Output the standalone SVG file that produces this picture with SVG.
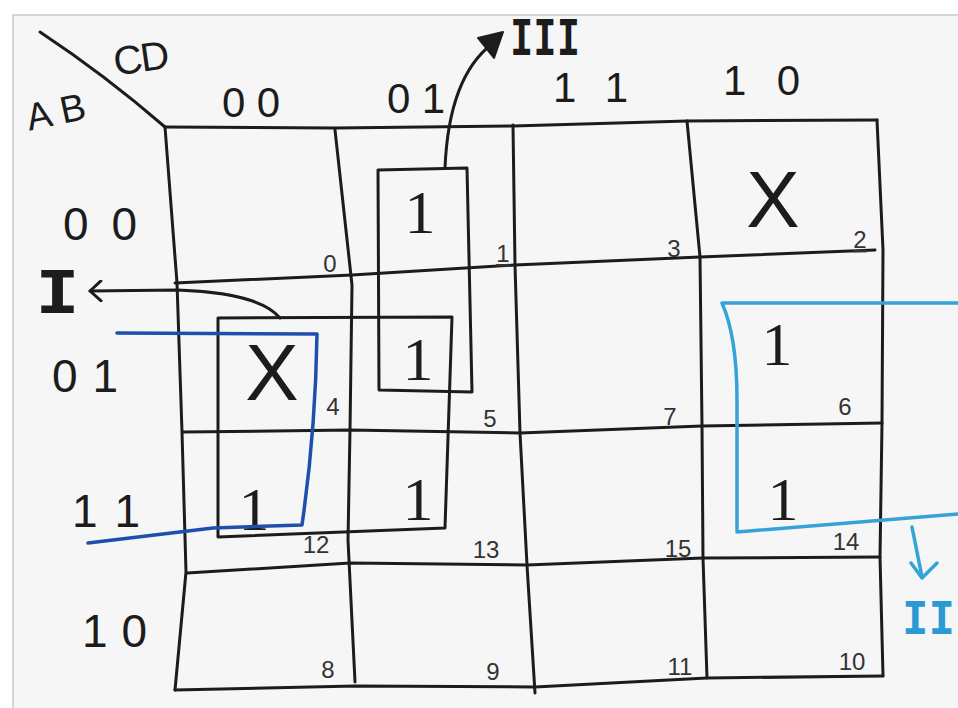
<svg xmlns="http://www.w3.org/2000/svg" width="958" height="708" viewBox="0 0 958 708">
<defs>
<style>
.ink{fill:none;stroke:#1c1c1c;stroke-width:3;stroke-linecap:round;stroke-linejoin:round}
.b1{fill:none;stroke:#1f4fae;stroke-width:3.5;stroke-linecap:round;stroke-linejoin:round}
.b2{fill:none;stroke:#35a3d6;stroke-width:3.5;stroke-linecap:round;stroke-linejoin:round}
.lbl{font-family:"Liberation Sans",Arial,sans-serif;fill:#1c1c1c}
.one{font-family:"Liberation Serif","Times New Roman",serif;fill:#1c1c1c;font-size:62px;text-anchor:middle}
.num{font-family:"Liberation Sans",Arial,sans-serif;fill:#333;font-size:24px;text-anchor:middle}
.rom{font-family:"DejaVu Sans Mono","Liberation Mono",monospace;font-weight:bold}
</style>
<marker id="openhead" markerWidth="16" markerHeight="22" refX="13" refY="11" orient="auto" markerUnits="userSpaceOnUse">
<path d="M2,1 L13,11 L2,21" fill="none" stroke="#1c1c1c" stroke-width="3" stroke-linecap="round" stroke-linejoin="round"/>
</marker>
</defs>
<rect x="0" y="0" width="958" height="708" fill="#ffffff"/>
<rect x="13" y="15" width="960" height="700" fill="#f6f6f6" stroke="#c9c9c9" stroke-width="1.5"/>

<g id="grid">
<path class="ink" d="M40,32 Q105,75 165,127"/>
<path class="ink" d="M165,127 L335,128 L513,126 L687,121 L877,120"/>
<path class="ink" d="M175,283 L352,275 L515,265 L700,257 L875,250"/>
<path class="ink" d="M183,432 L350,430 L520,433 L702,426 L882,423"/>
<path class="ink" d="M187,573 L350,563 L527,565 L703,558 L880,557"/>
<path class="ink" d="M175,690 L355,686 L535,687 L707,678 L883,676"/>
<path class="ink" d="M165,127 L177,283 L182,432 L186,572 L175,690"/>
<path class="ink" d="M335,130 L352,285 L350,430 L348,540 L355,682"/>
<path class="ink" d="M513,125 L515,265 L520,433 L527,565 L535,693"/>
<path class="ink" d="M687,121 L700,257 L702,426 L703,558 L707,678"/>
<path class="ink" d="M877,120 L883,250 L882,423 L880,557 L883,676"/>
</g>

<g id="headers">
<text class="lbl" x="113" y="72" font-size="40" textLength="56" transform="rotate(-8 140 56)">CD</text>
<text class="lbl" x="25" y="125" font-size="38" textLength="60" transform="rotate(-12 55 108)">AB</text>
<text class="lbl" x="222" y="117" font-size="42" textLength="58">00</text>
<text class="lbl" x="387" y="113" font-size="42" textLength="58">01</text>
<text class="lbl" x="553" y="102" font-size="42" textLength="75">11</text>
<text class="lbl" x="723" y="95" font-size="42" textLength="77">10</text>
<text class="lbl" x="63" y="240" font-size="46" textLength="74">00</text>
<text class="lbl" x="52" y="392" font-size="46" textLength="66">01</text>
<text class="lbl" x="72" y="527" font-size="46" textLength="68">11</text>
<text class="lbl" x="82" y="647" font-size="46" textLength="65">10</text>
</g>

<g id="cells">
<text class="num" x="330" y="272">0</text>
<text class="num" x="503" y="262" text-decoration="underline">1</text>
<text class="num" x="674" y="257">3</text>
<text class="num" x="860" y="248" text-decoration="underline">2</text>
<text class="num" x="333" y="415">4</text>
<text class="num" x="490" y="427">5</text>
<text class="num" x="670" y="425">7</text>
<text class="num" x="845" y="415">6</text>
<text class="num" x="316" y="553">12</text>
<text class="num" x="486" y="558">13</text>
<text class="num" x="678" y="557">15</text>
<text class="num" x="846" y="550">14</text>
<text class="num" x="328" y="678">8</text>
<text class="num" x="493" y="680">9</text>
<text class="num" x="680" y="675">11</text>
<text class="num" x="852" y="670">10</text>

<text class="one" x="420" y="233">1</text>
<text class="one" x="418" y="380">1</text>
<text class="one" x="254" y="530">1</text>
<text class="one" x="418" y="520">1</text>
<text class="one" x="777" y="365">1</text>
<text class="one" x="783" y="520">1</text>
<text class="lbl" x="272" y="400" font-size="80" text-anchor="middle">X</text>
<text class="lbl" x="773" y="227" font-size="80" text-anchor="middle">X</text>
</g>

<g id="groups">
<path class="ink" d="M378,170 L467,168 L472,392 L379,390 Z"/>
<path class="ink" d="M218,318 L452,317 L445,528 L218,537 Z"/>
<path class="b1" d="M117,333 L317,334 C316,400 310,470 302,525 L213,528 L88,543"/>
<path class="b2" d="M958,303 L722,303 C734,330 737,370 737,400 L737,532 L958,514"/>
</g>

<g id="connectors">
<path class="ink" d="M280,318 C265,300 230,292 177,290 L90,291" marker-end="url(#openhead)"/>
<path class="ink" d="M445,168 C447,120 458,70 492,44"/>
<path d="M478,38 L503,32 L494,58 Z" fill="#1c1c1c" stroke="#1c1c1c" stroke-width="2" stroke-linejoin="round"/>
<path class="b2" d="M912,527 L922,577"/>
<path class="b2" d="M911,563 L922,578 L937,563"/>
</g>

<g id="labels">
<text class="rom" x="35" y="313" font-size="58" textLength="45" lengthAdjust="spacingAndGlyphs" fill="#1c1c1c">I</text>
<text class="rom" x="510" y="55" font-size="50" textLength="70" lengthAdjust="spacingAndGlyphs" fill="#1c1c1c">III</text>
<text class="rom" x="902" y="634" font-size="44" fill="#2a9ad4">II</text>
</g>
</svg>
